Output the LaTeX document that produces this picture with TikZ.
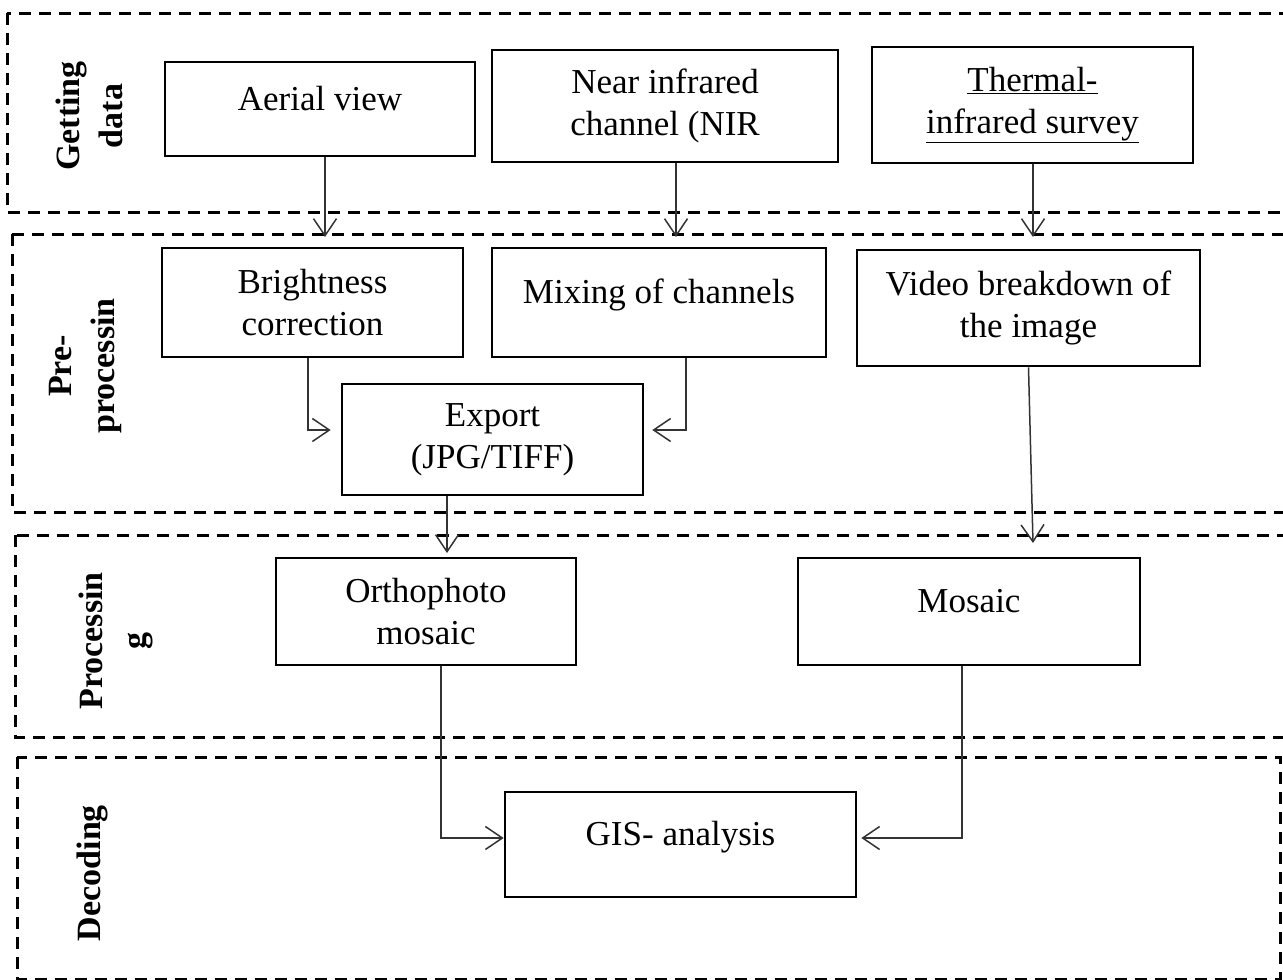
\documentclass[tikz,border=0pt]{standalone}
\usepackage{fontspec}
\setmainfont{Liberation Serif}
\usepackage{tikz}
\usetikzlibrary{arrows.meta}
\usetikzlibrary{calc}

\tikzset{
    stage/.style={draw, line width=2.6pt, inner sep=0pt, align=center, font=\fontsize{35}{42}\selectfont},
    oneline/.style={text depth=22pt},
    layer/.style={line width=3pt, dash pattern=on 12pt off 8pt},
    layername/.style={rotate=90, inner sep=0pt, align=center, font=\fontsize{34}{43}\selectfont\bfseries},
    flow/.style={line width=1.5pt, black!80, -{Straight Barb[length=17pt,width=23pt]}}
}

\begin{document}
\begin{tikzpicture}[x=1pt, y=-1pt]
        \clip (0,0) rectangle (1283,980);

        \draw[layer] (7,13) rectangle (1300,212);
        \draw[layer] (12,234) rectangle (1300,512);
        \draw[layer] (15,535) rectangle (1300,737);
        \draw[layer] (17,757) rectangle (1280,979);

        \node[layername] (getlbl) at (89,116) {Getting\\data};
        \node[layername] (prelbl) at (85,366) {Pre-\\processin};
        \node[layername] (proclbl) at (116,641) {Processin\\g};
        \node[layername] (declbl) at (92,873) {Decoding};

        \node[stage, oneline, minimum width=310pt, minimum height=94pt] (aerial) at (320,109) {Aerial view};
        \node[stage, minimum width=346pt, minimum height=112pt] (nir) at (665,106) {Near infrared\\channel (NIR};
        \node[stage, minimum width=321pt, minimum height=116pt] (thermal) at (1032.5,105) {\underline{Thermal-}\\\underline{infrared survey}};

        \node[stage, minimum width=301pt, minimum height=109pt] (bright) at (312.5,302.5) {Brightness\\correction};
        \node[stage, oneline, minimum width=334pt, minimum height=109pt] (mixing) at (659,302.5) {Mixing of channels};
        \node[stage, minimum width=343pt, minimum height=116pt] (video) at (1028.5,308) {Video breakdown of\\the image};
        \node[stage, minimum width=301pt, minimum height=111pt] (export) at (492.5,439.5) {Export\\(JPG/TIFF)};

        \node[stage, minimum width=300pt, minimum height=107pt] (ortho) at (426,611.5) {Orthophoto\\mosaic};
        \node[stage, oneline, minimum width=342pt, minimum height=107pt] (mosaic) at (969,611.5) {Mosaic};

        \node[stage, oneline, minimum width=351pt, minimum height=105pt] (gis) at (680.5,844.5) {GIS- analysis};

        \coordinate (t1) at (325,237);
        \coordinate (t2) at (676,237);
        \coordinate (t3) at (1033,237);
        \coordinate (b1) at (308,430);
        \coordinate (b2) at (686,430);
        \coordinate (e1) at (447,553);
        \coordinate (v1) at (1033,543);
        \coordinate (g1) at (441,838);
        \coordinate (g2) at (962,838);

        \draw[flow] (aerial.south -| t1) -- (t1);
        \draw[flow] (nir.south -| t2) -- (t2);
        \draw[flow] (thermal.south -| t3) -- (t3);

        \draw[flow, shorten >=10pt] (bright.south -| b1) -- (b1) -- (b1 -| export.west);
        \draw[flow, shorten >=8pt] (mixing.south -| b2) -- (b2) -- (b2 -| export.east);

        \draw[flow] (export.south -| e1) -- (e1);
        \draw[flow] (video.south) -- (v1);

        \draw[flow] (ortho.south -| g1) -- (g1) -- (g1 -| gis.west);
        \draw[flow, shorten >=4pt] (mosaic.south -| g2) -- (g2) -- (g2 -| gis.east);
\end{tikzpicture}
\end{document}
